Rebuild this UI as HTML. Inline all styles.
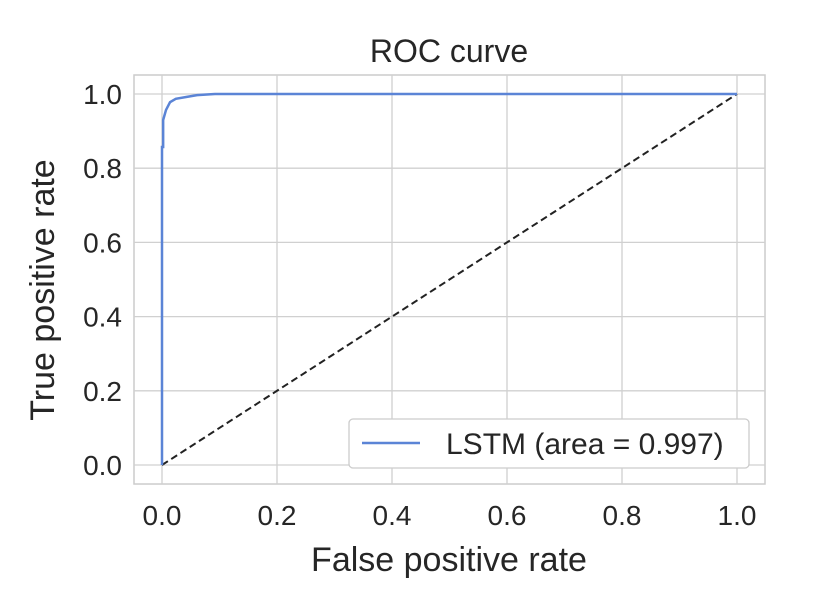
<!DOCTYPE html>
<html><head><meta charset="utf-8"><style>
body{margin:0;background:#fff;}
svg text{font-family:"Liberation Sans","DejaVu Sans",sans-serif;fill:#262626;}
</style></head><body>
<svg id="chart" width="817" height="594">
</svg>
<script>
const fprValues=[0,0,0.002,0.002,0.007,0.014,0.024,0.042,0.061,0.092,1];
const tprValues=[0,0.857,0.857,0.93,0.957,0.978,0.987,0.992,0.997,1,1];
const xTicks=[0,0.2,0.4,0.6,0.8,1.0];
const yTicks=[0,0.2,0.4,0.6,0.8,1.0];
const legendLabel="LSTM (area = 0.997)";
const svg=document.getElementById('chart');
const NS='http://www.w3.org/2000/svg';
const X=v=>162+v*575, Y=v=>465-v*371;
function mk(t,a,txt){const e=document.createElementNS(NS,t);for(const k in a)e.setAttribute(k,a[k]);if(txt!==undefined)e.textContent=txt;svg.appendChild(e);return e;}
let e;
e=mk('rect',{x:134,y:75,width:631,height:409,fill:'#fff',stroke:'#ccc','stroke-width':1.5});


xTicks.forEach(t=>{
 e=mk('line',{x1:X(t),x2:X(t),y1:75,y2:484,stroke:'#d0d0d0','stroke-width':1.3});
 
 
 e=mk('text',{x:X(t),y:525,'text-anchor':'middle','font-size':28},t.toFixed(1));
 
 
});
yTicks.forEach(t=>{
 e=mk('line',{x1:134,x2:765,y1:Y(t),y2:Y(t),stroke:'#d0d0d0','stroke-width':1.3});
 
 
 e=mk('text',{x:122,y:Y(t)+10,'text-anchor':'end','font-size':28},t.toFixed(1));
 
 
});
e=mk('line',{x1:X(0),y1:Y(0),x2:X(1),y2:Y(1),stroke:'#222','stroke-width':2,'stroke-dasharray':'7,4'});


e=mk('polyline',{points:fprValues.map((f,i)=>X(f)+','+Y(tprValues[i])).join(' '),fill:'none',stroke:'#5b84d6','stroke-width':2.5});


e=mk('text',{x:449,y:62,'text-anchor':'middle','font-size':32},'ROC curve');


e=mk('text',{x:449,y:571,'text-anchor':'middle','font-size':34},'False positive rate');


e=mk('text',{x:54,y:290,'text-anchor':'middle','font-size':34,transform:'rotate(-90 54 290)'},'True positive rate');


e=mk('rect',{x:349,y:419,width:400,height:49,rx:4,fill:'#fff',stroke:'#ccc','stroke-width':1.3});


e=mk('line',{x1:362,x2:420,y1:443,y2:443,stroke:'#5b84d6','stroke-width':2.5});


e=mk('text',{x:446,y:454,'font-size':30},legendLabel);


</script>
</body></html>
